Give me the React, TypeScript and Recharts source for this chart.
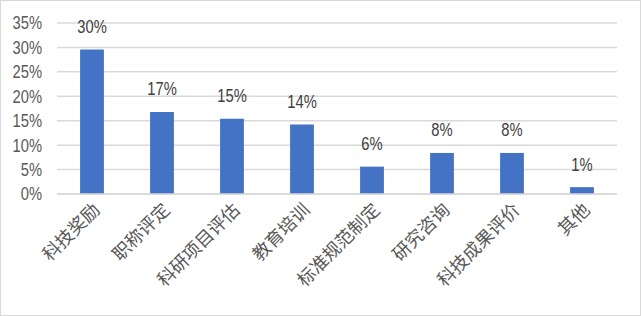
import { BarChart, Bar, XAxis, YAxis, CartesianGrid, LabelList } from "recharts";

const categories = ["科技奖励", "职称评定", "科研项目评估", "教育培训", "标准规范制定", "研究咨询", "科技成果评价", "其他"];
const shares = [29.6, 16.8, 15.4, 14.2, 5.6, 8.4, 8.4, 1.4];
const yTicks = [0, 5, 10, 15, 20, 25, 30, 35];

const data = categories.map((name, i) => ({ name, value: shares[i] }));

const latin = "'Liberation Sans', Arial, sans-serif";
const cjk = "'Noto Sans CJK SC', sans-serif";

// narrow digits like the original (Arial Narrow look)
function YTick(props: any) {
  const { x, y, payload } = props;
  return (
    <text
      transform={`translate(${x},${y}) scale(0.82,1)`}
      textAnchor="end"
      dy="0.36em"
      fill="#595959"
      fontSize={18}
      fontFamily={latin}
    >
      {`${payload.value}%`}
    </text>
  );
}

function BarLabel(props: any) {
  const { x, y, width, value } = props;
  return (
    <text
      transform={`translate(${Number(x) + Number(width) / 2},${Number(y) - 16.5}) scale(0.82,1)`}
      textAnchor="middle"
      fill="#404040"
      fontSize={18}
      fontFamily={latin}
    >
      {`${Math.round(Number(value))}%`}
    </text>
  );
}

export default function App() {
  return (
    <div
      style={{
        position: "fixed",
        left: 0,
        top: 0,
        width: 641,
        height: 316,
        boxSizing: "border-box",
        border: "1px solid #d9d9d9",
        background: "#fff",
      }}
    >
      <BarChart
        width={641}
        height={316}
        data={data}
        margin={{ top: 23, right: 24, bottom: 0, left: 0 }}
        barCategoryGap="67%"
        style={{ position: "absolute", left: -1, top: -1 }}
      >
        <CartesianGrid vertical={false} stroke="#d9d9d9" strokeWidth={1.5} />
        <XAxis
          dataKey="name"
          height={122}
          interval={0}
          tickLine={false}
          axisLine={{ stroke: "#d9d9d9", strokeWidth: 1.5 }}
          angle={-45}
          textAnchor="end"
          tick={{ fill: "#595959", fontSize: 18, fontFamily: cjk }}
        />
        <YAxis
          width={57}
          domain={[0, 35]}
          ticks={yTicks}
          interval={0}
          tickLine={false}
          axisLine={false}
          tickMargin={9}
          tick={<YTick />}
        />
        <Bar dataKey="value" fill="#4472c4" isAnimationActive={false}>
          <LabelList dataKey="value" content={<BarLabel />} />
        </Bar>
      </BarChart>
    </div>
  );
}
